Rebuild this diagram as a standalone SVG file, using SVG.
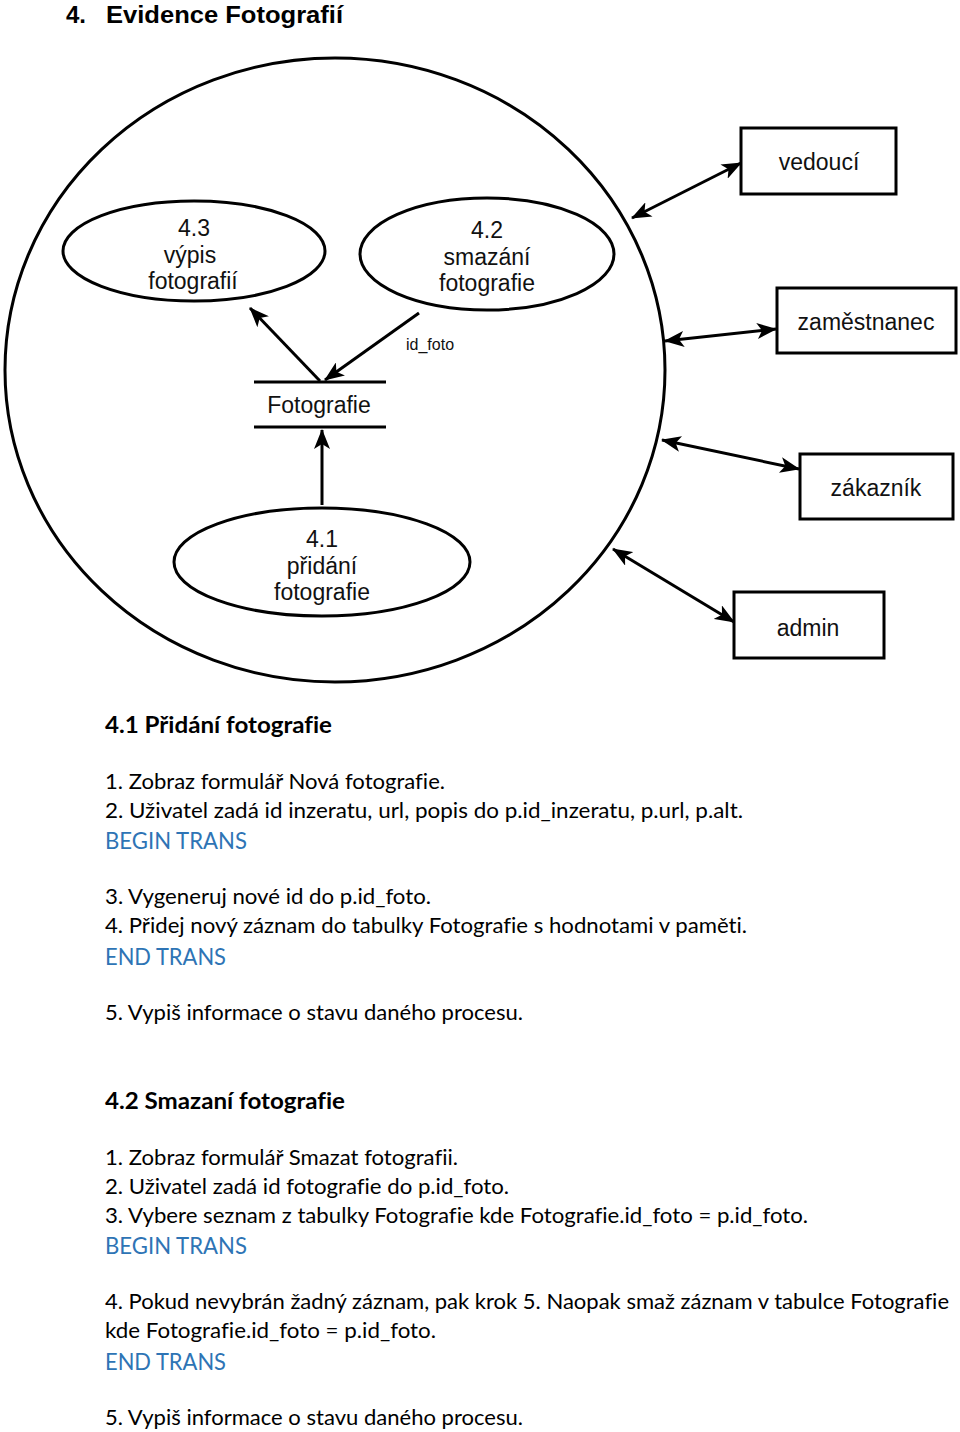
<svg xmlns="http://www.w3.org/2000/svg" width="960" height="1432" viewBox="0 0 960 1432">
<style>
.ln{fill:none;stroke:#000;stroke-width:3}
.bx{fill:#fff;stroke:#000;stroke-width:3}
.dg{font-family:"Liberation Sans",Arial,sans-serif;font-size:23px;fill:#111;text-anchor:middle;font-variant-ligatures:none}
.tx{font-family:Lato,"Open Sans",sans-serif;font-size:21px;fill:#000;font-variant-ligatures:none}
.hd{font-family:Lato,"Open Sans",sans-serif;font-size:22px;font-weight:bold;fill:#000;font-variant-ligatures:none}
.bl{font-family:Lato,"Open Sans",sans-serif;font-size:23px;fill:#2e74b5}
.ti{font-family:"Liberation Sans",Arial,sans-serif;font-size:24px;font-weight:bold;fill:#000}
.cn{fill:none;stroke:#000;stroke-width:3}
</style>
<defs>
<marker id="ah" viewBox="0 0 20 16" refX="19" refY="8" markerWidth="20" markerHeight="16" markerUnits="userSpaceOnUse" orient="auto-start-reverse">
<path d="M0,0 L20,8 L0,16 L5,8 Z" fill="#000"/>
</marker>
</defs>
<rect width="960" height="1432" fill="#fff"/>
<text class="ti" x="66" y="23">4.</text>
<text class="ti" x="106" y="23" textLength="237" lengthAdjust="spacingAndGlyphs">Evidence Fotografií</text>

<g id="system"><ellipse class="ln" cx="335" cy="370" rx="330" ry="312"/></g>

<g id="p43"><ellipse class="ln" cx="194" cy="251" rx="131" ry="50"/>
<text class="dg" x="194" y="236">4.3</text><text class="dg" x="190" y="263">výpis</text><text class="dg" x="193" y="289">fotografií</text></g>

<g id="p42"><ellipse class="ln" cx="487" cy="254" rx="127" ry="56"/>
<text class="dg" x="487" y="238">4.2</text><text class="dg" x="487" y="265">smazání</text><text class="dg" x="487" y="291">fotografie</text></g>

<g id="p41"><ellipse class="ln" cx="322" cy="562" rx="148" ry="54"/>
<text class="dg" x="322" y="547">4.1</text><text class="dg" x="322" y="574">přidání</text><text class="dg" x="322" y="600">fotografie</text></g>

<g id="store"><line class="ln" x1="254" y1="382" x2="386" y2="382"/><line class="ln" x1="254" y1="427" x2="386" y2="427"/>
<text class="dg" x="319" y="413">Fotografie</text></g>

<g id="vedouci"><rect class="bx" x="741" y="128" width="155" height="66"/><text class="dg" x="819" y="170">vedoucí</text></g>
<g id="zamestnanec"><rect class="bx" x="777" y="288" width="179" height="65"/><text class="dg" x="866" y="330">zaměstnanec</text></g>
<g id="zakaznik"><rect class="bx" x="800" y="454" width="153" height="65"/><text class="dg" x="876" y="496">zákazník</text></g>
<g id="admin"><rect class="bx" x="734" y="592" width="150" height="66"/><text class="dg" x="808" y="636">admin</text></g>

<g id="connectors">
<line class="cn" x1="320" y1="381" x2="250" y2="308" marker-end="url(#ah)"/>
<line class="cn" x1="419" y1="313" x2="325" y2="380" marker-end="url(#ah)"/>
<line class="cn" x1="322" y1="505" x2="322" y2="430" marker-end="url(#ah)"/>
<line class="cn" x1="632" y1="218" x2="741" y2="163" marker-start="url(#ah)" marker-end="url(#ah)"/>
<line class="cn" x1="665" y1="341" x2="776" y2="329" marker-start="url(#ah)" marker-end="url(#ah)"/>
<line class="cn" x1="662" y1="440" x2="799" y2="469" marker-start="url(#ah)" marker-end="url(#ah)"/>
<line class="cn" x1="613" y1="549" x2="734" y2="622" marker-start="url(#ah)" marker-end="url(#ah)"/>
<text x="406" y="350" font-family="Liberation Sans,Arial,sans-serif" font-size="16" fill="#111">id_foto</text>
</g>

<g id="textblock">
<text class="hd" x="105" y="733" textLength="227" lengthAdjust="spacingAndGlyphs">4.1 Přidání fotografie</text>
<text class="tx" x="105" y="789" textLength="340" lengthAdjust="spacingAndGlyphs">1. Zobraz formulář Nová fotografie.</text>
<text class="tx" x="105" y="818" textLength="638" lengthAdjust="spacingAndGlyphs">2. Uživatel zadá id inzeratu, url, popis do p.id_inzeratu, p.url, p.alt.</text>
<text class="bl" x="105" y="849" textLength="142" lengthAdjust="spacingAndGlyphs">BEGIN TRANS</text>
<text class="tx" x="105" y="904" textLength="326" lengthAdjust="spacingAndGlyphs">3. Vygeneruj nové id do p.id_foto.</text>
<text class="tx" x="105" y="933" textLength="642" lengthAdjust="spacingAndGlyphs">4. Přidej nový záznam do tabulky Fotografie s hodnotami v paměti.</text>
<text class="bl" x="105" y="965" textLength="121" lengthAdjust="spacingAndGlyphs">END TRANS</text>
<text class="tx" x="105" y="1020" textLength="418" lengthAdjust="spacingAndGlyphs">5. Vypiš informace o stavu daného procesu.</text>
<text class="hd" x="105" y="1109" textLength="240" lengthAdjust="spacingAndGlyphs">4.2 Smazaní fotografie</text>
<text class="tx" x="105" y="1165" textLength="353" lengthAdjust="spacingAndGlyphs">1. Zobraz formulář Smazat fotografii.</text>
<text class="tx" x="105" y="1194" textLength="404" lengthAdjust="spacingAndGlyphs">2. Uživatel zadá id fotografie do p.id_foto.</text>
<text class="tx" x="105" y="1223" textLength="703" lengthAdjust="spacingAndGlyphs">3. Vybere seznam z tabulky Fotografie kde Fotografie.id_foto = p.id_foto.</text>
<text class="bl" x="105" y="1254" textLength="142" lengthAdjust="spacingAndGlyphs">BEGIN TRANS</text>
<text class="tx" x="105" y="1309" textLength="844" lengthAdjust="spacingAndGlyphs">4. Pokud nevybrán žadný záznam, pak krok 5. Naopak smaž záznam v tabulce Fotografie</text>
<text class="tx" x="105" y="1338" textLength="331" lengthAdjust="spacingAndGlyphs">kde Fotografie.id_foto = p.id_foto.</text>
<text class="bl" x="105" y="1370" textLength="121" lengthAdjust="spacingAndGlyphs">END TRANS</text>
<text class="tx" x="105" y="1425" textLength="418" lengthAdjust="spacingAndGlyphs">5. Vypiš informace o stavu daného procesu.</text>
</g>
</svg>
